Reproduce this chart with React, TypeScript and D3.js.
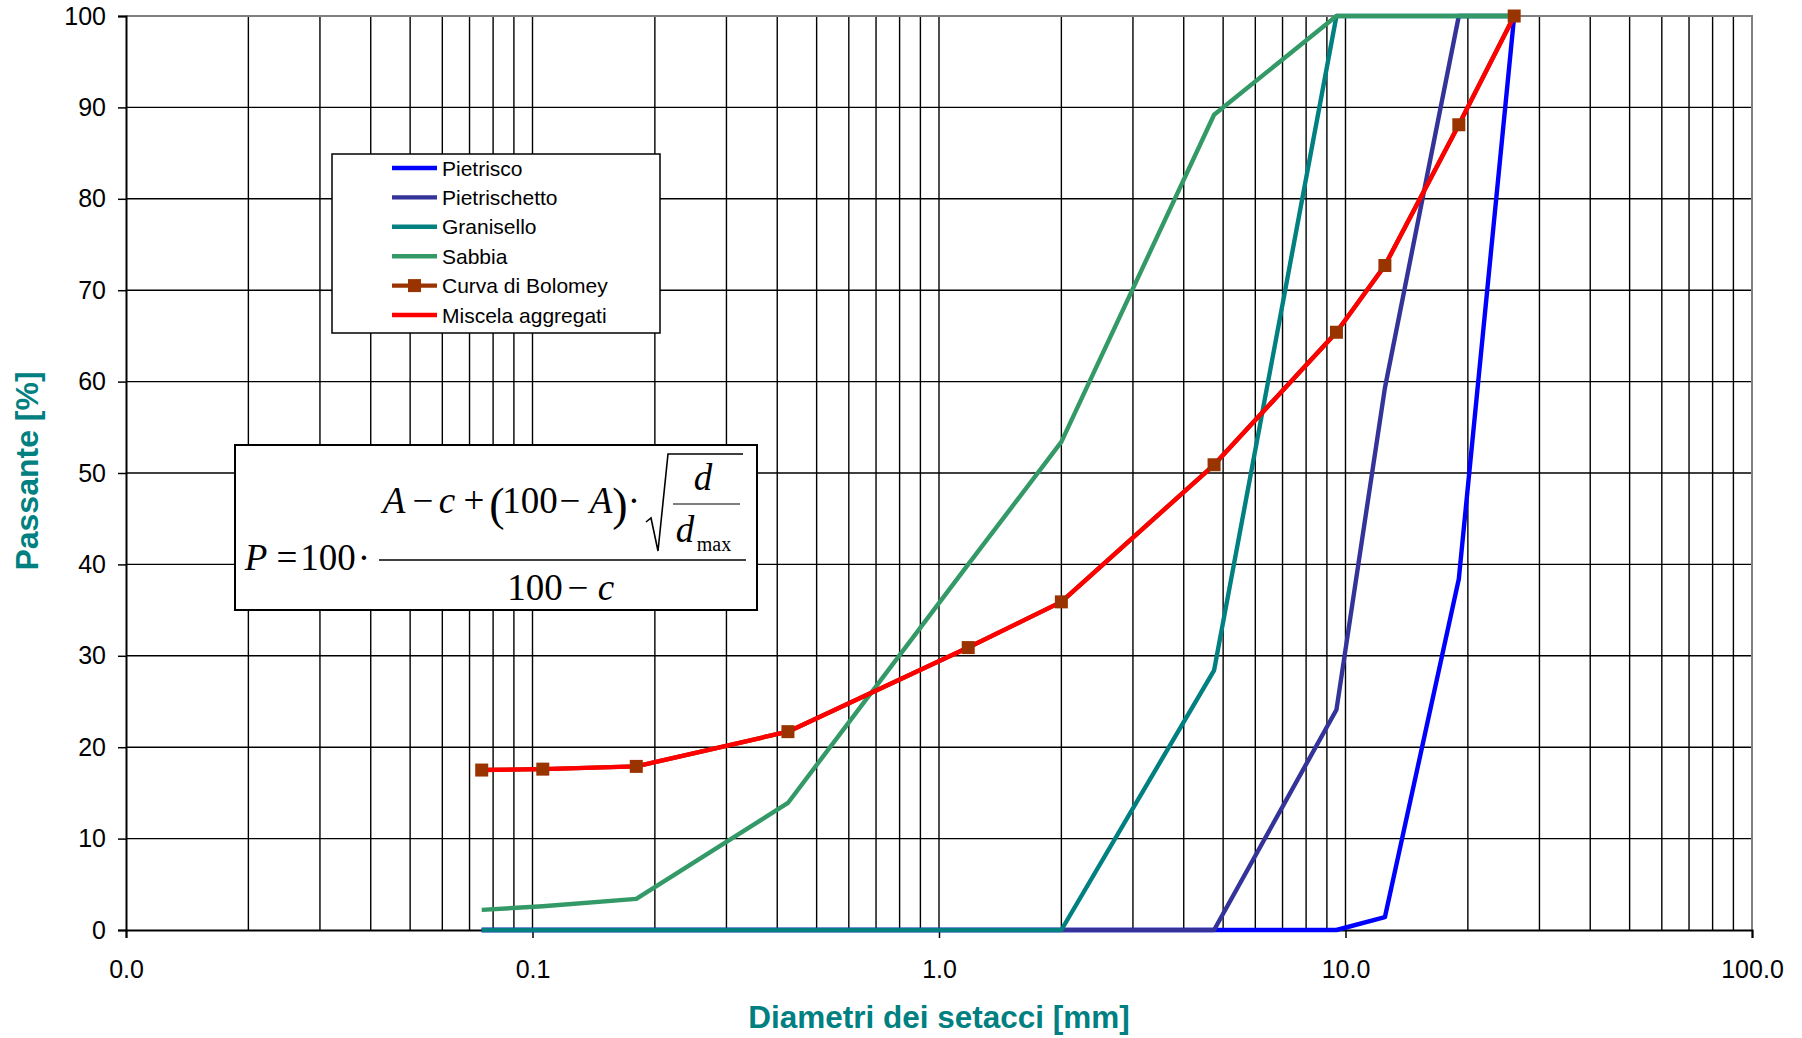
import React, { useEffect, useRef } from 'react';
import * as d3 from 'd3';

// sieve openings [mm]
const SIEVES = [0.075, 0.106, 0.18, 0.425, 1.18, 2, 4.75, 9.5, 12.5, 19, 26];

const PIETRISCO = [0, 0, 0, 0, 0, 0, 0, 0, 1.4, 38.4, 100];
const PIETRISCHETTO = [0, 0, 0, 0, 0, 0, 0, 24.1, 59.3, 100, 100];
const GRANISELLO = [0, 0, 0, 0, 0, 0, 28.4, 100, 100, 100, 100];
const SABBIA = [2.2, 2.6, 3.4, 13.9, 40, 53.4, 89.2, 100, 100, 100, 100];
const BOLOMEY = [17.5, 17.6, 17.9, 21.7, 30.9, 35.9, 50.9, 65.4, 72.7, 88.1, 100];
const MISCELA = [17.5, 17.6, 17.9, 21.7, 30.9, 35.9, 50.9, 65.4, 72.7, 88.1, 100];

const SERIES_NAMES = ['Pietrisco', 'Pietrischetto', 'Granisello', 'Sabbia', 'Curva di Bolomey', 'Miscela aggregati'];
const SERIES_COLORS = ['#0000ff', '#333399', '#008080', '#339966', '#993300', '#ff0000'];

const Y_TICKS = [0, 10, 20, 30, 40, 50, 60, 70, 80, 90, 100];
const X_LABEL_TICKS = [0.01, 0.1, 1, 10, 100];

const App = () => {
  const ref = useRef<SVGSVGElement>(null);

  useEffect(() => {
    const svg = d3.select(ref.current);
    svg.selectAll('*').remove();

    const width = 1802,
      height = 1038,
      margin = { top: 16, right: 50, bottom: 108, left: 126 };

    const x = d3.scaleLog().domain([0.01, 100]).range([margin.left, width - margin.right]);
    const y = d3.scaleLinear().domain([0, 100]).range([height - margin.bottom, margin.top]);

    const sans = "Arial, 'Liberation Sans', sans-serif";
    const serif = "'Times New Roman', 'Liberation Serif', serif";

    svg.append('rect').attr('width', width).attr('height', height).attr('fill', '#fff');

    // vertical grid (log)
    svg
      .append('g')
      .selectAll('line')
      .data(x.ticks().filter(d => d > 0.01 && d < 100))
      .enter()
      .append('line')
      .attr('x1', d => x(d))
      .attr('x2', d => x(d))
      .attr('y1', y(100))
      .attr('y2', y(0))
      .attr('stroke', '#000')
      .attr('stroke-width', 1.4);

    // horizontal grid
    svg
      .append('g')
      .selectAll('line')
      .data(Y_TICKS.filter(d => d > 0 && d < 100))
      .enter()
      .append('line')
      .attr('x1', x(0.01))
      .attr('x2', x(100))
      .attr('y1', d => y(d))
      .attr('y2', d => y(d))
      .attr('stroke', '#000')
      .attr('stroke-width', 1.4);

    // plot border top / right
    svg
      .append('path')
      .attr('d', `M${x(0.01)},${y(100)}H${x(100)}V${y(0)}`)
      .attr('fill', 'none')
      .attr('stroke', '#808080')
      .attr('stroke-width', 2);

    // axes
    const yAxis = d3.axisLeft(y).tickValues(Y_TICKS).tickSize(8).tickPadding(12);
    const gy = svg.append('g').attr('transform', `translate(${x(0.01)},0)`).call(yAxis);
    gy.select('.domain').attr('stroke', '#000').attr('stroke-width', 2);
    gy.selectAll('.tick line').attr('stroke', '#000').attr('stroke-width', 1.5);
    gy.selectAll('text').style('font-family', sans).style('font-size', '25px').attr('fill', '#000');

    const xAxis = d3.axisBottom(x).tickValues(X_LABEL_TICKS).tickFormat(d3.format('.1f')).tickSize(8).tickPadding(22);
    const gx = svg.append('g').attr('transform', `translate(0,${y(0)})`).call(xAxis);
    gx.select('.domain').attr('stroke', '#000').attr('stroke-width', 2);
    gx.selectAll('.tick line').attr('stroke', '#000').attr('stroke-width', 1.5);
    gx.selectAll('text').style('font-family', sans).style('font-size', '25px').attr('fill', '#000');

    // axis titles
    svg
      .append('text')
      .attr('x', (x(0.01) + x(100)) / 2)
      .attr('y', 1028)
      .attr('text-anchor', 'middle')
      .style('font-family', sans)
      .style('font-size', '31.5px')
      .style('font-weight', 'bold')
      .attr('fill', '#008080')
      .text('Diametri dei setacci [mm]');

    svg
      .append('text')
      .attr('transform', `translate(38,${(y(0) + y(100)) / 2 - 2}) rotate(-90)`)
      .attr('text-anchor', 'middle')
      .style('font-family', sans)
      .style('font-size', '32px')
      .style('font-weight', 'bold')
      .attr('fill', '#008080')
      .text('Passante [%]');

    // series
    const seriesData = [PIETRISCO, PIETRISCHETTO, GRANISELLO, SABBIA, BOLOMEY, MISCELA];
    const line = d3
      .line<number>()
      .x((d, i) => x(SIEVES[i]))
      .y(d => y(d));

    seriesData.forEach((vals, k) => {
      svg
        .append('path')
        .attr('d', line(vals))
        .attr('fill', 'none')
        .attr('stroke', SERIES_COLORS[k])
        .attr('stroke-width', 4.4)
        .attr('stroke-linejoin', 'round');
    });

    // Bolomey markers
    svg
      .append('g')
      .selectAll('rect')
      .data(BOLOMEY)
      .enter()
      .append('rect')
      .attr('x', (d, i) => x(SIEVES[i]) - 6.5)
      .attr('y', d => y(d) - 6.5)
      .attr('width', 13)
      .attr('height', 13)
      .attr('fill', '#993300');

    // legend
    const legend = svg.append('g');
    legend
      .append('rect')
      .attr('x', 332)
      .attr('y', 154)
      .attr('width', 328)
      .attr('height', 179)
      .attr('fill', '#fff')
      .attr('stroke', '#000')
      .attr('stroke-width', 1.5);

    const items = legend
      .selectAll('.item')
      .data(SERIES_NAMES)
      .enter()
      .append('g')
      .attr('class', 'item')
      .attr('transform', (d, i) => `translate(0,${168 + i * 29.4})`);

    items
      .append('line')
      .attr('x1', 392)
      .attr('x2', 437)
      .attr('stroke', (d, i) => SERIES_COLORS[i])
      .attr('stroke-width', 4.4);

    items
      .filter(d => d === 'Curva di Bolomey')
      .append('rect')
      .attr('x', 408)
      .attr('y', -6.5)
      .attr('width', 13)
      .attr('height', 13)
      .attr('fill', '#993300');

    items
      .append('text')
      .attr('x', 442)
      .attr('y', 7.5)
      .style('font-family', sans)
      .style('font-size', '21px')
      .attr('fill', '#000')
      .text(d => d);

    // Bolomey formula box
    const f = svg.append('g');
    f.append('rect')
      .attr('x', 235)
      .attr('y', 445)
      .attr('width', 522)
      .attr('height', 165)
      .attr('fill', '#fff')
      .attr('stroke', '#000')
      .attr('stroke-width', 2);

    const glyph = (t, cx, by, size, italic = false) =>
      f
        .append('text')
        .attr('x', cx)
        .attr('y', by)
        .attr('text-anchor', 'middle')
        .style('font-family', serif)
        .style('font-size', `${size}px`)
        .style('font-style', italic ? 'italic' : 'normal')
        .attr('fill', '#000')
        .text(t);

    glyph('P', 256, 570, 37, true);
    glyph('=', 287, 570, 37);
    glyph('100', 328, 570, 37);
    glyph('·', 364, 570, 37);
    f.append('line').attr('x1', 379).attr('x2', 746).attr('y1', 560).attr('y2', 560).attr('stroke', '#000').attr('stroke-width', 1.5);

    glyph('A', 394, 513, 37, true);
    glyph('−', 423, 513, 37);
    glyph('c', 447, 513, 37, true);
    glyph('+', 474, 513, 37);
    glyph('(', 497, 520, 46);
    glyph('100', 530, 513, 37);
    glyph('−', 570, 513, 37);
    glyph('A', 601, 513, 37, true);
    glyph(')', 620, 520, 46);
    glyph('·', 634, 513, 37);

    f.append('path')
      .attr('d', 'M646,522 L651,518 L658,551 L668,454 L743,454')
      .attr('fill', 'none')
      .attr('stroke', '#000')
      .attr('stroke-width', 1.6);
    glyph('d', 703, 490, 37, true);
    f.append('line').attr('x1', 673).attr('x2', 740).attr('y1', 504).attr('y2', 504).attr('stroke', '#555').attr('stroke-width', 1.3);
    glyph('d', 685, 542, 37, true);
    glyph('max', 714, 551, 20);

    glyph('100', 535, 600, 37);
    glyph('−', 578, 600, 37);
    glyph('c', 606, 600, 37, true);
  }, []);

  return (
    <svg
      ref={ref}
      width={1802}
      height={1038}
      style={{ position: 'absolute', left: 0, top: 0, display: 'block' }}
    />
  );
};

export default App;
